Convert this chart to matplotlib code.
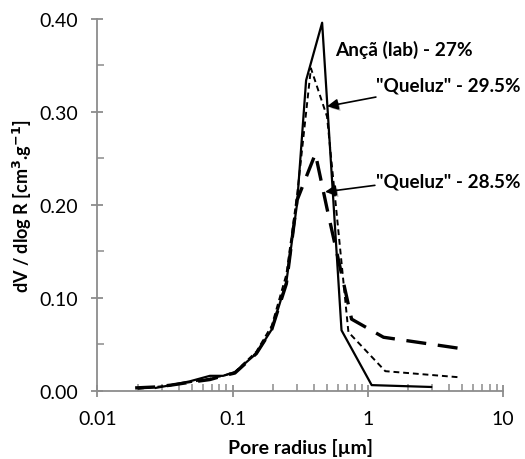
import numpy as np
import matplotlib
matplotlib.use("Agg")
import matplotlib.pyplot as plt
import matplotlib.patheffects as pe
from matplotlib.ticker import FixedLocator, NullFormatter, LogLocator

plt.rcParams['font.family'] = ['Lato', 'DejaVu Sans']

# Ançã (lab) - 27%
r_anca = [0.027, 0.035, 0.048, 0.068, 0.085, 0.104, 0.15, 0.195, 0.25, 0.30, 0.35, 0.46, 0.64, 1.07, 2.95]
v_anca = [0.003, 0.006, 0.010, 0.016, 0.016, 0.020, 0.040, 0.066, 0.117, 0.201, 0.334, 0.396, 0.065, 0.006, 0.004]

# "Queluz" - 29.5%
r_q295 = [0.02, 0.027, 0.035, 0.048, 0.068, 0.085, 0.104, 0.15, 0.195, 0.25, 0.30, 0.38, 0.50, 0.72, 1.35, 4.79]
v_q295 = [0.002, 0.004, 0.006, 0.009, 0.013, 0.016, 0.020, 0.042, 0.070, 0.125, 0.210, 0.347, 0.295, 0.063, 0.021, 0.0144]

# "Queluz" - 28.5%
r_q285 = [0.019, 0.027, 0.035, 0.048, 0.068, 0.085, 0.104, 0.15, 0.195, 0.25, 0.30, 0.41, 0.50, 0.76, 1.31, 4.71]
v_q285 = [0.003, 0.004, 0.006, 0.009, 0.012, 0.016, 0.019, 0.040, 0.066, 0.115, 0.205, 0.255, 0.196, 0.077, 0.0575, 0.0457]

fig = plt.figure(figsize=(5.25, 4.6), dpi=100)
ax = fig.add_axes([0.1857, 0.1485, 0.772, 0.808])

ax.plot(r_q285, v_q285, color="black", lw=2.4, dashes=(6, 3.5))
ax.plot(r_q295, v_q295, color="black", lw=1.4, dashes=(3, 2))
ax.plot(r_anca, v_anca, color="black", lw=1.6)

ax.set_xscale("log")
ax.set_xlim(0.01, 10)
ax.set_ylim(0, 0.40)

ax.set_yticks([0.0, 0.1, 0.2, 0.3, 0.4])
ax.set_yticklabels(["0.00", "0.10", "0.20", "0.30", "0.40"])
ax.yaxis.set_minor_locator(FixedLocator([0.05, 0.15, 0.25, 0.35]))
ax.set_xticks([0.01, 0.1, 1, 10])
ax.set_xticklabels(["0.01", "0.1", "1", "10"])
ax.xaxis.set_minor_locator(LogLocator(base=10, subs=np.arange(2, 10)))
ax.xaxis.set_minor_formatter(NullFormatter())

grey = "#8c8c8c"
for s in ["top", "right"]:
    ax.spines[s].set_visible(False)
for s in ["left", "bottom"]:
    ax.spines[s].set_color(grey)
    ax.spines[s].set_linewidth(1.3)
ax.tick_params(which="major", direction="inout", length=8, width=1.3, color=grey,
               labelsize=14, pad=10)
ax.tick_params(which="minor", direction="in", length=5, width=1.1, color=grey)

ax.set_xlabel("Pore radius [µm]", fontsize=14, fontweight="bold", labelpad=8)
ax.set_ylabel("dV / dlog R [cm$^\\mathbf{3}$.g$^\\mathbf{-1}$]", fontsize=13,
              fontweight="bold", labelpad=4)

shadow = [pe.SimplePatchShadow(offset=(1.5, -1.5), alpha=0.35), pe.Normal()]
ax.text(0.574, 0.368, "Ançã (lab) - 27%", fontsize=13.8, fontweight="bold", va="center", ha="left")
ax.text(1.16, 0.329, '"Queluz" - 29.5%', fontsize=13.6, fontweight="bold", va="center", ha="left")
ax.text(1.16, 0.226, '"Queluz" - 28.5%', fontsize=13.6, fontweight="bold", va="center", ha="left")
ax.annotate("", xy=(0.50, 0.306), xytext=(1.15, 0.316),
            arrowprops=dict(arrowstyle="-|>", color="black", lw=1.2, mutation_scale=16,
                            shrinkA=0, shrinkB=0, path_effects=shadow))
ax.annotate("", xy=(0.484, 0.214), xytext=(1.13, 0.221),
            arrowprops=dict(arrowstyle="-|>", color="black", lw=1.2, mutation_scale=16,
                            shrinkA=0, shrinkB=0, path_effects=shadow))

fig.savefig("out.png", dpi=100)
